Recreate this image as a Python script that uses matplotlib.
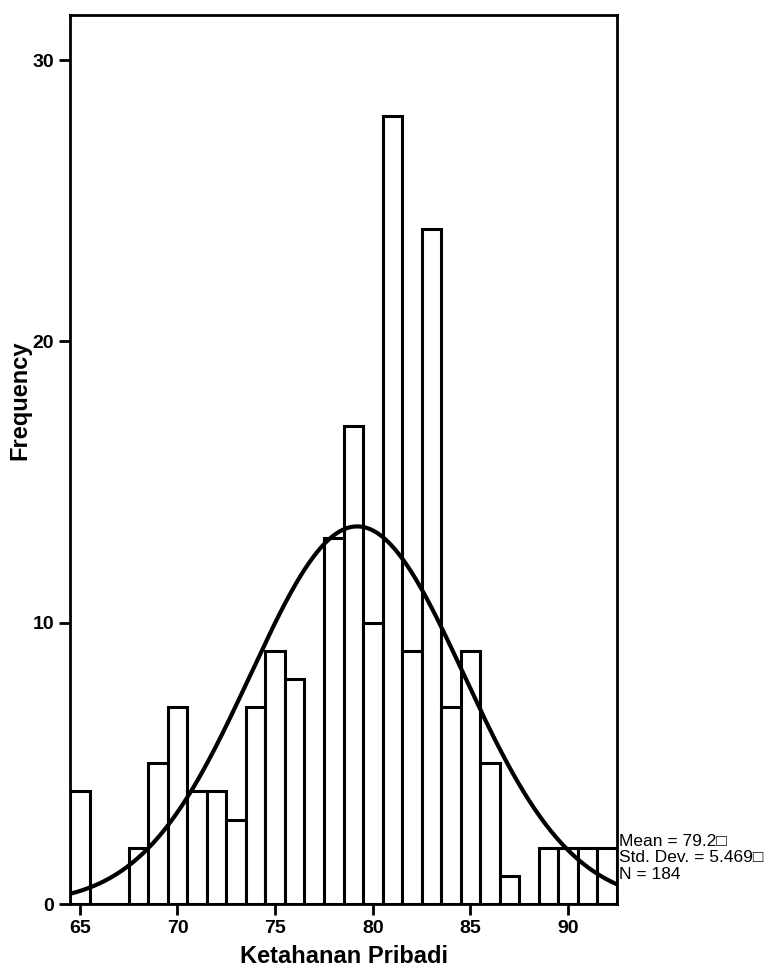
import matplotlib.pyplot as plt
import numpy as np

# histogram counts, one bin per integer score
scores = list(range(65, 93))
counts = [4, 0, 0, 2, 5, 7, 4, 4, 3, 7, 9, 8, 0, 13,
          17, 10, 28, 9, 24, 7, 9, 5, 1, 0, 2, 2, 2, 2]
mean_val = 79.2
std_val = 5.469
n_total = 184
stats_lines = ["Mean = 79.2\u25a1", "Std. Dev. = 5.469\u25a1", "N = 184"]

plt.rcParams["font.family"] = ["Liberation Sans Narrow", "Liberation Sans", "DejaVu Sans"]

fig = plt.figure(figsize=(7.72, 9.8), dpi=100)
ax = fig.add_axes([70 / 772, 1 - 904 / 980, 547 / 772, 889 / 980])

ax.bar(scores, counts, width=1.0, color="white", edgecolor="black",
       linewidth=2.2, zorder=2)

# fitted normal curve (bin width 1)
xs = np.linspace(64.5, 92.5, 400)
ys = n_total / (std_val * np.sqrt(2 * np.pi)) * np.exp(-0.5 * ((xs - mean_val) / std_val) ** 2)
ax.plot(xs, ys, color="black", linewidth=3, zorder=3)

ax.set_xlim(64.5, 92.5)
ax.set_ylim(0, 31.6)
ax.set_xticks([65, 70, 75, 80, 85, 90])
ax.set_yticks([0, 10, 20, 30])
ax.tick_params(direction="out", length=8, width=2, labelsize=14)
for lbl in ax.get_xticklabels() + ax.get_yticklabels():
    lbl.set_fontweight("bold")
for spine in ax.spines.values():
    spine.set_linewidth(2)

ax.set_xlabel("Ketahanan Pribadi", fontsize=17, fontweight="bold", labelpad=6,
              family=["Liberation Sans", "DejaVu Sans"])
fig.text(20 / 772, 1 - 400 / 980, "Frequency", rotation=90, fontsize=17,
         fontweight="bold", ha="center", va="center",
         family=["Liberation Sans", "DejaVu Sans"])

for i, line in enumerate(stats_lines):
    fig.text(619 / 772, 1 - (841 + i * 16.5) / 980, line, fontsize=12.5,
             va="center", ha="left")

fig.savefig("out.png", dpi=100)
